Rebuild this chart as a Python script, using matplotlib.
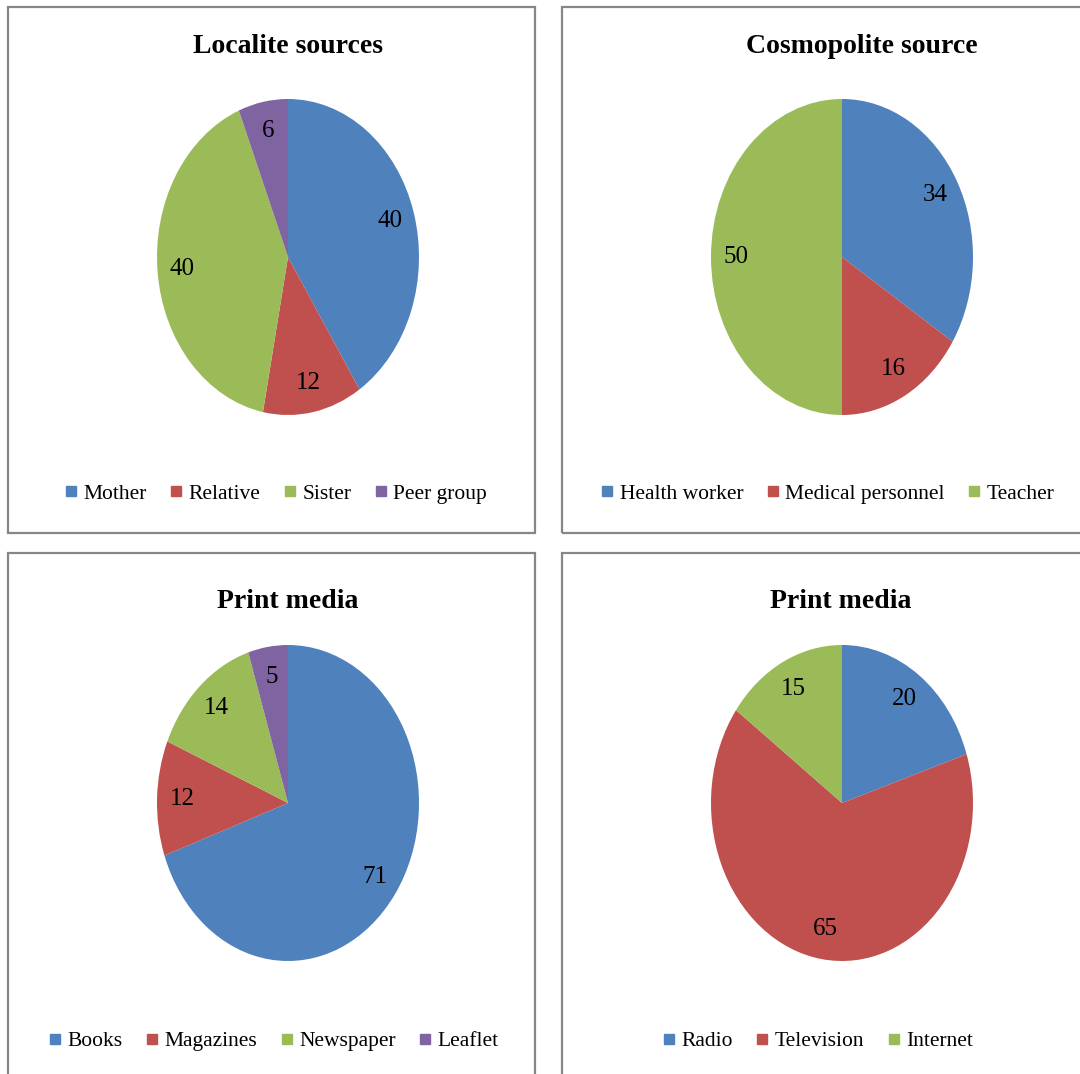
import matplotlib.pyplot as plt
from matplotlib.lines import Line2D
from matplotlib.patches import Rectangle

plt.rcParams['font.family'] = ['Liberation Serif', 'DejaVu Serif']

# Datos
localite_labels = ['Mother', 'Relative', 'Sister', 'Peer group']
localite_values = [40, 12, 40, 6]

cosmo_labels = ['Health worker', 'Medical personnel', 'Teacher']
cosmo_values = [34, 16, 50]

print_labels = ['Books', 'Magazines', 'Newspaper', 'Leaflet']
print_values = [71, 12, 14, 5]

media_labels = ['Radio', 'Television', 'Internet']
media_values = [20, 65, 15]

colors = ['#4F81BD', '#C0504D', '#9BBB59', '#8064A2']

W, H = 1080, 1074
fig = plt.figure(figsize=(W / 100, H / 100), dpi=100)


def fx(px):
    return px / W


def fy(py):
    return 1 - py / H


# (titulo, etiquetas, valores, x0 panel, y0 panel, baseline titulo, y leyenda, x titulo, x leyenda)
panels = [
    ('Localite sources', localite_labels, localite_values, 8, 7, 53, 494, 288, 276),
    ('Cosmopolite source', cosmo_labels, cosmo_values, 562, 7, 53, 494, 862, 828),
    ('Print media', print_labels, print_values, 8, 553, 608, 1041, 288, 274),
    ('Print media', media_labels, media_values, 562, 553, 608, 1041, 841, 818),
]

for title, labels, values, px, py, ty, ly, tx, lx in panels:
    # Marco del panel
    fig.add_artist(Rectangle((fx(px), fy(py + 526)), 527 / W, 526 / H,
                             transform=fig.transFigure, fill=False,
                             edgecolor='#868686', linewidth=1.6))

    # Pastel (eliptico, como en el original)
    left = px + 149
    top = py + 92
    ax = fig.add_axes([fx(left), fy(top + 316), 262 / W, 316 / H])
    total = sum(values)
    ax.pie(values, colors=colors[:len(values)], startangle=90, counterclock=False,
           autopct=lambda p, t=total: f'{p * t / 100:.0f}', pctdistance=0.81,
           wedgeprops=dict(linewidth=0),
           textprops=dict(fontsize=18, color='black'))
    ax.set_aspect('auto')
    ax.set_xlim(-1, 1)
    ax.set_ylim(-1, 1)
    ax.axis('off')

    fig.text(fx(tx), fy(ty), title, ha='center', va='baseline',
             fontsize=20, fontweight='bold')

    handles = [Line2D([], [], marker='s', linestyle='', markersize=7.5,
                      color=colors[i]) for i in range(len(labels))]
    fig.legend(handles, labels, loc='center', bbox_to_anchor=(fx(lx), fy(ly)),
               ncol=len(labels), frameon=False, fontsize=15.5,
               handlelength=0.55, handletextpad=0.3, columnspacing=1.1,
               borderpad=0, borderaxespad=0)

plt.savefig('out.png', dpi=100)
plt.close()
